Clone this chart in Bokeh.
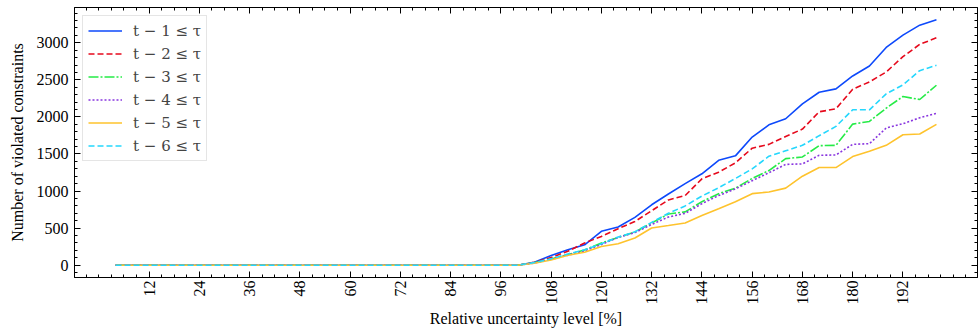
import math
from bokeh.plotting import figure
from bokeh.models import (Range1d, FixedTicker, LinearAxis, Legend, LegendItem,
                          CustomLabelingPolicy)
from bokeh.embed import file_html
from bokeh.resources import INLINE

# ---- data ----
x = list(range(4, 201, 4))
zeros = [0] * 25  # x = 4 .. 100
s1 = zeros + [40, 130, 208, 275, 458, 515, 645, 815, 960, 1100, 1233, 1415, 1475,
              1728, 1893, 1975, 2176, 2333, 2378, 2552, 2687, 2937, 3103, 3237, 3310]
s2 = zeros + [40, 105, 188, 300, 388, 493, 590, 735, 880, 940, 1165, 1255, 1380,
              1578, 1630, 1735, 1836, 2069, 2109, 2373, 2472, 2606, 2812, 2978, 3067]
s3 = zeros + [36, 82, 143, 205, 300, 375, 447, 570, 690, 720, 857, 965, 1040,
              1170, 1277, 1437, 1460, 1612, 1617, 1903, 1939, 2118, 2275, 2235, 2427]
s4 = zeros + [30, 80, 134, 195, 280, 375, 440, 550, 650, 700, 830, 940, 1030,
              1140, 1247, 1360, 1366, 1483, 1487, 1630, 1639, 1850, 1908, 1988, 2047]
s5 = zeros + [27, 70, 135, 175, 252, 290, 368, 502, 535, 570, 670, 762, 855,
              965, 988, 1040, 1201, 1317, 1317, 1465, 1536, 1617, 1760, 1769, 1899]
s6 = zeros + [36, 87, 152, 208, 290, 380, 450, 578, 700, 800, 933, 1045, 1170,
              1300, 1470, 1543, 1617, 1747, 1872, 2096, 2096, 2311, 2432, 2624, 2696]
series = [s1, s2, s3, s4, s5, s6]
labels = ["t − 1 ≤ τ", "t − 2 ≤ τ", "t − 3 ≤ τ", "t − 4 ≤ τ", "t − 5 ≤ τ", "t − 6 ≤ τ"]
x_ticks = list(range(12, 193, 12))
y_ticks = list(range(0, 3001, 500))

colors = ["#0d49fb", "#e6091c", "#26eb47", "#8936df", "#fec32d", "#25d7fd"]
dashes = ["solid", "6 3", "10 2 2 2", "2 2", "solid", "6 3"]

FONT = "Liberation Serif"

p = figure(width=979, height=330, output_backend="svg", toolbar_location=None,
           x_range=Range1d(-5.8, 209.8), y_range=Range1d(-165.5, 3475.5),
           min_border_left=74, min_border_right=2, min_border_top=7,
           min_border_bottom=53, x_axis_type=None, y_axis_type=None)
p.outline_line_color = "black"
p.outline_line_width = 1

xt = FixedTicker(ticks=x_ticks, minor_ticks=list(range(-3, 210, 3)))
yt = FixedTicker(ticks=y_ticks, minor_ticks=list(range(-100, 3475, 100)))


def style(ax, show):
    ax.major_tick_in = 6
    ax.major_tick_out = 0
    ax.minor_tick_in = 3
    ax.minor_tick_out = 0
    ax.axis_line_color = "black"
    ax.major_tick_line_color = "black"
    ax.minor_tick_line_color = "black"
    if show:
        ax.major_label_text_font = FONT
        ax.major_label_text_font_size = "16px"
        ax.major_label_text_color = "black"
        ax.axis_label_text_font = FONT
        ax.axis_label_text_font_size = "16px"
        ax.axis_label_text_font_style = "normal"
        ax.axis_label_text_color = "black"
    else:
        ax.major_label_standoff = 0
        ax.major_label_text_font_size = "0px"
        ax.major_label_policy = CustomLabelingPolicy(
            code="for (const i of [...indices]) { indices.unset(i) }")


bx = LinearAxis(ticker=xt, axis_label="Relative uncertainty level [%]")
style(bx, True)
bx.major_label_orientation = math.pi / 2
bx.major_label_standoff = 3
bx.axis_label_standoff = 2
p.add_layout(bx, "below")

ly = LinearAxis(ticker=yt, axis_label="Number of violated constraints")
style(ly, True)
ly.major_label_standoff = 6
ly.axis_label_standoff = 8
p.add_layout(ly, "left")

tx = LinearAxis(ticker=xt)
style(tx, False)
p.add_layout(tx, "above")
ry = LinearAxis(ticker=yt)
style(ry, False)
p.add_layout(ry, "right")

p.xgrid.ticker = xt
p.ygrid.ticker = yt
for g in (p.xgrid, p.ygrid):
    g.grid_line_color = "#a8a8a8"
    g.grid_line_dash = "1 2"
    g.grid_line_width = 1

items = []
for s, c, d, lab in zip(series, colors, dashes, labels):
    r = p.line(x, s, line_color=c, line_width=1.6, line_dash=d)
    items.append(LegendItem(label=lab, renderers=[r]))

leg = Legend(items=items, location="top_left", margin=8, padding=5,
             spacing=4, glyph_width=34, glyph_height=19, label_height=19,
             label_standoff=11, label_text_font="DejaVu Serif",
             label_text_font_size="15px", border_line_color="#cccccc",
             border_line_width=1, background_fill_alpha=0.85)
p.add_layout(leg, "center")

open("out.html", "w").write(file_html(p, INLINE))
